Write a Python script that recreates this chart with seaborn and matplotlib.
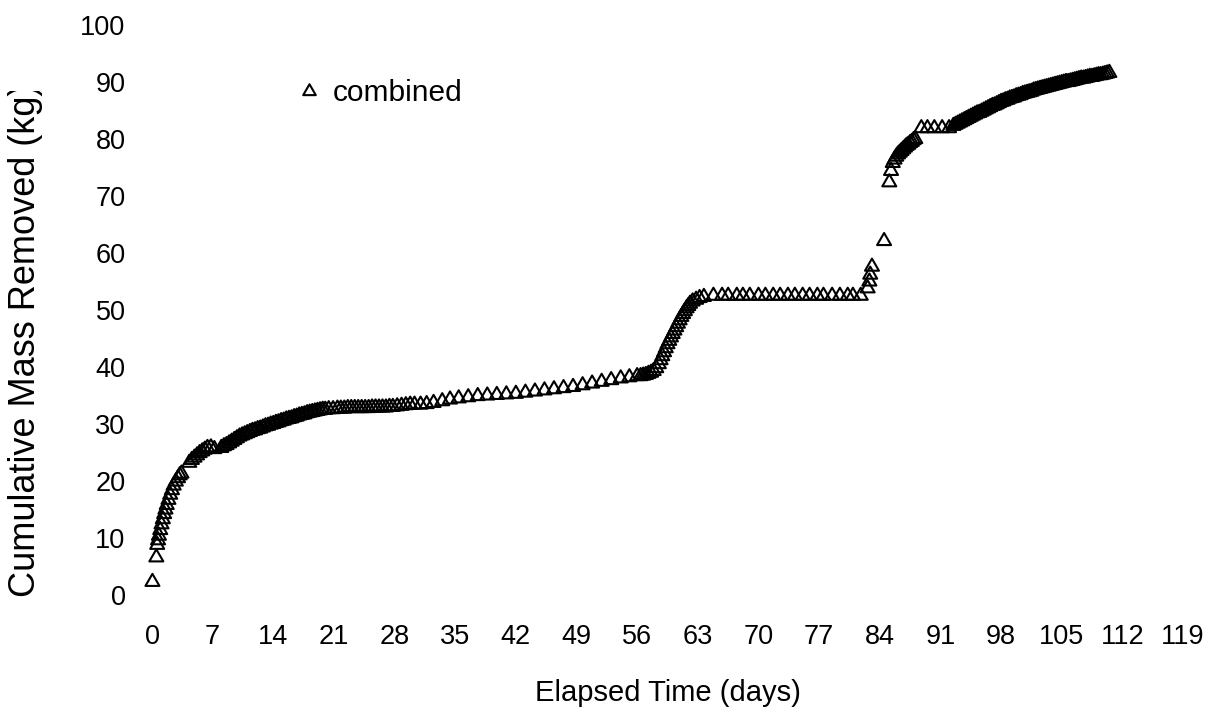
import matplotlib
matplotlib.use("Agg")
import matplotlib.pyplot as plt
import numpy as np
import pandas as pd
import seaborn as sns
from matplotlib.path import Path
from matplotlib.transforms import Bbox, TransformedBbox

# ---- data ----
days_a = [0.05, 0.5, 0.6, 0.7, 0.8, 0.95, 1.1, 1.25, 1.4, 1.55, 1.7, 1.9, 2.1, 2.3, 2.5, 2.75, 3.0, 3.2, 3.4]
mass_a = [2.3, 6.6, 8.8, 9.6, 10.4, 11.4, 12.4, 13.3, 14.2, 15.0, 15.8, 16.7, 17.6, 18.4, 19.2, 19.9, 20.5, 21.0, 21.3]

days_b = [4.3, 4.6, 4.9, 5.2, 5.5, 5.8, 6.1, 6.4, 6.8, 7.2]
mass_b = [23.2, 23.7, 24.1, 24.5, 24.9, 25.2, 25.5, 25.8, 25.9, 25.6]

days_c = [8.0, 8.3, 8.6, 8.9, 9.2, 9.5, 9.8, 10.1, 10.4, 10.7, 11.0, 11.3, 11.6, 11.9,
          12.2, 12.5, 12.8, 13.1, 13.4, 13.7, 14.0, 14.3, 14.6, 14.9, 15.2, 15.5, 15.8,
          16.1, 16.4, 16.7, 17.0, 17.3, 17.6, 17.9, 18.2, 18.5, 18.8, 19.1, 19.4, 19.7, 20.0]
mass_c = [25.8, 26.1, 26.3, 26.6, 26.9, 27.2, 27.5, 27.8, 28.0, 28.2, 28.4, 28.6, 28.8, 28.9,
          29.1, 29.2, 29.4, 29.6, 29.7, 29.9, 30.0, 30.2, 30.3, 30.5, 30.6, 30.8, 30.9,
          31.0, 31.2, 31.3, 31.5, 31.6, 31.7, 31.9, 32.0, 32.1, 32.2, 32.3, 32.4, 32.5, 32.5]

days_d = [20.4, 20.9, 21.4, 21.8, 22.2, 22.6, 23.0, 23.4, 23.8, 24.2, 24.6, 25.0, 25.4, 25.8,
          26.2, 26.6, 27.0, 27.4, 27.8, 28.3, 28.8, 29.3, 29.8, 30.3, 31.0, 31.7, 32.5, 33.5,
          34.4, 35.4, 36.5, 37.6, 38.7, 39.8, 40.9, 42.0, 43.1, 44.2, 45.3, 46.4, 47.5, 48.6,
          49.7, 50.8, 51.9, 53.0, 54.1, 55.1, 56.0]
mass_d = [32.6, 32.6, 32.7, 32.7, 32.7, 32.8, 32.8, 32.8, 32.8, 32.8, 32.8, 32.8, 32.9, 32.9,
          32.9, 32.9, 32.9, 33.0, 33.0, 33.1, 33.2, 33.3, 33.4, 33.4, 33.4, 33.5, 33.7, 34.0,
          34.3, 34.5, 34.7, 34.9, 35.0, 35.1, 35.2, 35.3, 35.5, 35.7, 35.9, 36.1, 36.3, 36.5,
          36.8, 37.1, 37.4, 37.7, 38.0, 38.2, 38.4]

days_e = [56.4, 56.7, 57.0, 57.3, 57.6, 57.9, 58.2, 58.5, 58.7, 58.9, 59.1, 59.3, 59.5, 59.7,
          59.9, 60.1, 60.3, 60.5, 60.7, 60.9, 61.1, 61.3, 61.5, 61.7, 61.9, 62.1, 62.4, 62.8,
          63.2, 63.7]
mass_e = [38.4, 38.5, 38.6, 38.8, 39.0, 39.3, 39.8, 40.5, 41.2, 41.9, 42.6, 43.3, 44.0, 44.6,
          45.2, 45.8, 46.4, 47.0, 47.6, 48.2, 48.8, 49.3, 49.8, 50.3, 50.7, 51.1, 51.5, 51.8,
          52.1, 52.3]

days_p1 = [64.8, 65.8, 66.5, 67.5, 68.2, 69.0, 70.0, 70.8, 71.7, 72.5, 73.4, 74.2, 75.1,
           75.9, 76.8, 77.5, 78.5, 79.4, 80.3, 80.9, 81.8]
mass_p1 = [52.5, 52.5, 52.5, 52.5, 52.5, 52.5, 52.5, 52.5, 52.5, 52.5, 52.5, 52.5, 52.5,
           52.5, 52.5, 52.5, 52.5, 52.5, 52.5, 52.5, 52.5]

days_jump = [82.6, 82.8, 82.9, 83.1, 84.5, 85.1, 85.3]
mass_jump = [53.8, 55.0, 56.2, 57.6, 62.1, 72.4, 74.4]

days_f1 = [85.5, 85.7, 85.9, 86.1, 86.3, 86.5, 86.7, 86.9, 87.1, 87.3, 87.5, 87.7, 87.9, 88.1]
mass_f1 = [75.8, 76.4, 76.9, 77.3, 77.6, 77.9, 78.2, 78.5, 78.8, 79.0, 79.3, 79.5, 79.8, 80.0]

days_p2 = [88.8, 89.5, 90.3, 91.2, 92.0]
mass_p2 = [81.9, 81.9, 81.9, 81.9, 81.9]

days_f2 = [92.50, 92.75, 93.00, 93.25, 93.50, 93.75, 94.00, 94.25, 94.50, 94.75, 95.00, 95.25,
           95.50, 95.75, 96.00, 96.25, 96.50, 96.75, 97.00, 97.25, 97.50, 97.75, 98.00, 98.25,
           98.50, 98.75, 99.00, 99.25, 99.50, 99.75, 100.00, 100.25, 100.50, 100.75, 101.00,
           101.25, 101.50, 101.75, 102.00, 102.25, 102.50, 102.75, 103.00, 103.25, 103.50,
           103.75, 104.00, 104.25, 104.50, 104.75, 105.00, 105.25, 105.50, 105.75, 106.00,
           106.25, 106.50, 106.75, 107.00, 107.25, 107.50, 107.75, 108.00, 108.25, 108.50,
           108.75, 109.00, 109.25, 109.50, 109.75, 110.00, 110.25, 110.50]
mass_f2 = [82.3, 82.5, 82.7, 82.9, 83.1, 83.3, 83.5, 83.7, 83.9, 84.1, 84.3, 84.5,
           84.6, 84.8, 85.0, 85.2, 85.4, 85.6, 85.8, 85.9, 86.1, 86.3, 86.5, 86.6,
           86.8, 86.9, 87.1, 87.2, 87.3, 87.5, 87.6, 87.7, 87.9, 88.0, 88.1,
           88.2, 88.3, 88.5, 88.6, 88.7, 88.8, 88.9, 89.0, 89.1, 89.2,
           89.3, 89.4, 89.5, 89.6, 89.7, 89.8, 89.9, 90.0, 90.0, 90.1,
           90.2, 90.3, 90.4, 90.5, 90.6, 90.6, 90.7, 90.8, 90.9, 90.9,
           91.0, 91.1, 91.2, 91.2, 91.3, 91.4, 91.5, 91.6]

x_ticks = list(range(0, 120, 7))
y_ticks = list(range(0, 101, 10))
series_name = "combined"
x_label = "Elapsed Time (days)"
y_label = "Cumulative Mass Removed (kg)"

days = days_a + days_b + days_c + days_d + days_e + days_p1 + days_jump + days_f1 + days_p2 + days_f2
mass = mass_a + mass_b + mass_c + mass_d + mass_e + mass_p1 + mass_jump + mass_f1 + mass_p2 + mass_f2
df = pd.DataFrame({"day": days, "mass": mass, "series": series_name})

# ---- style ----
sns.set_style("white")
plt.rcParams["font.family"] = ["Liberation Sans", "DejaVu Sans"]

tri = Path([(0, 1.0), (-0.866, -0.5), (0.866, -0.5), (0, 1.0)],
           [Path.MOVETO, Path.LINETO, Path.LINETO, Path.CLOSEPOLY])

fig = plt.figure(figsize=(12.2, 7.14), dpi=100)
ax = fig.add_axes([152 / 1220, 1 - 595 / 714, 1031 / 1220, 570 / 714])

sns.scatterplot(data=df, x="day", y="mass", hue="series", palette=["black"],
                marker=tri, s=135, facecolor="none", edgecolor="black",
                linewidth=1.5, ax=ax, legend=True)
for coll in ax.collections:
    coll.set_facecolor("none")
    coll.set_edgecolor("black")
    coll.set_clip_on(False)

ax.set_xlim(0, 119)
ax.set_ylim(0, 100)
ax.set_xticks(x_ticks)
ax.set_yticks(y_ticks)
ax.tick_params(axis="both", length=0, labelsize=19.5, colors="black")
ax.tick_params(axis="x", pad=21)
ax.tick_params(axis="y", pad=19)
for s in ax.spines.values():
    s.set_visible(False)
ax.grid(False)

ax.set_xlabel(x_label, fontsize=21, color="black")
ax.xaxis.set_label_coords(0.5, -0.148)
ylab = ax.set_ylabel(y_label, fontsize=26, color="black")
ax.yaxis.set_label_coords(-0.106, 0.447)
# the reference's label runs into the top edge of its plot area; clip it there
ylab.set_clip_box(TransformedBbox(Bbox([[0, 0], [1, 1 - 91 / 714]]), fig.transFigure))
ylab.set_clip_on(True)

h, l = ax.get_legend_handles_labels()
leg = ax.legend(h, [series_name], loc="center left",
                bbox_to_anchor=(294 / 1220, 1 - 93 / 714), bbox_transform=fig.transFigure,
                frameon=False, fontsize=21.5, handlelength=1.0, handletextpad=0.3,
                borderpad=0, borderaxespad=0, markerscale=0.9, labelcolor="black")
for hh in leg.legend_handles:
    try:
        hh.set_facecolor("none")
        hh.set_edgecolor("black")
        hh.set_linewidth(1.2)
    except Exception:
        pass

fig.savefig("out.png", dpi=100, facecolor="white")
